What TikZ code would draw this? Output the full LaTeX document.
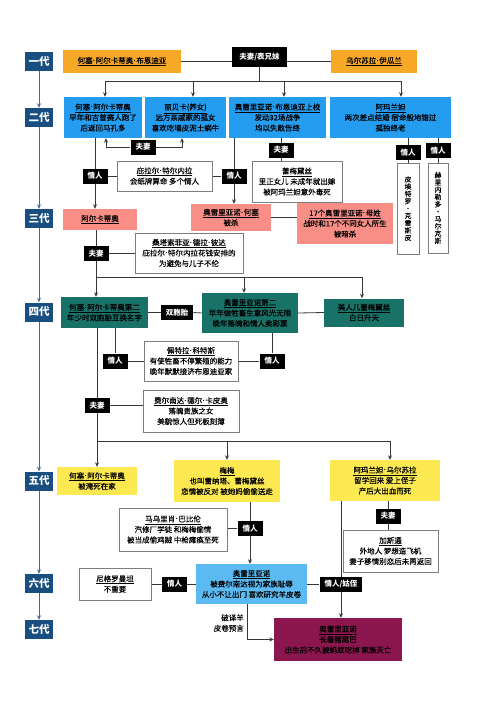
\documentclass[tikz,border=0pt]{standalone}
\usepackage{fontspec}
\setmainfont{Noto Sans CJK SC}
\newfontfamily\dotfont{Liberation Sans}
\usetikzlibrary{arrows.meta,backgrounds}

\definecolor{genblue}{RGB}{24,78,128}
\definecolor{genarrow}{RGB}{72,104,136}
\definecolor{linkgray}{RGB}{55,55,55}
\definecolor{cardgray}{RGB}{125,125,125}
\definecolor{cOrange}{RGB}{247,168,38}
\definecolor{cBlue}{RGB}{36,156,240}
\definecolor{cPink}{RGB}{248,142,134}
\definecolor{cTeal}{RGB}{24,114,104}
\definecolor{cYellow}{RGB}{252,233,82}
\definecolor{cSky}{RGB}{92,186,242}
\definecolor{cMaroon}{RGB}{140,22,78}

\newcommand{\boxfont}{\fontsize{7.5}{10.5}\selectfont\addfontfeature{FakeBold=0.25}}
\newcommand{\tagfont}{\bfseries\fontsize{7.5}{8}\selectfont}
\newcommand{\genfont}{\bfseries\fontsize{10.5}{11}\selectfont}
\newcommand{\vertfont}{\fontsize{6.8}{7.3}\selectfont\addfontfeature{FakeBold=0.25}}
\newcommand{\nm}[1]{\underline{#1}}
\newcommand{\dt}{{\dotfont\bfseries\kern0.3pt·\kern0.3pt}}

\begin{document}
\begin{tikzpicture}[x=1pt,y=-1pt,
    gen/.style={fill=genblue,text=white,font=\genfont,minimum width=28pt,minimum height=19pt,inner sep=0pt},
    tag/.style={fill=black,text=white,font=\tagfont,minimum height=15pt,inner xsep=5pt,inner ysep=0pt},
    box/.style={align=center,inner sep=0pt,font=\boxfont},
    card/.style={box,draw=cardgray,fill=white,line width=0.7pt},
    vert/.style={font=\vertfont},
    sz/.style 2 args={minimum width=#1pt,minimum height=#2pt},
    link/.style={draw=linkgray,line width=0.8pt},
    arr/.style={link,-{Stealth[length=4.5pt,width=4pt]}},
    genline/.style={draw=genarrow,line width=0.9pt,-{Stealth[length=4.5pt,width=4pt]}}]

    \useasboundingbox (0,0) rectangle (500,704);

    % generation labels
    \foreach \g/\y/\t in {1/61.5/一代,2/117.5/二代,3/218.5/三代,4/312/四代,5/481/五代,6/583.5/六代,7/629.5/七代}{
        \node[gen] (g\g) at (39,\y) {\t};
    }

    % first generation
    \node[box,fill=cOrange,sz={118}{23}] (jose1) at (122,61.5) {\nm{何塞\dt 阿尔卡蒂奥\dt 布恩迪亚}};
    \node[tag,minimum width=55pt,minimum height=20pt] (wed1) at (259.5,57) {夫妻/表兄妹};
    \node[box,fill=cOrange,sz={86}{23}] (ursula) at (374,61.5) {\nm{乌尔苏拉\dt 伊瓜兰}};
    \coordinate (bus1) at (259.5,81);

    % second generation
    \node[box,fill=cBlue,sz={78}{41}] (jose2) at (103,117.5) {\nm{何塞\dt 阿尔卡蒂奥}\\早年和吉普赛人跑了\\后返回马孔多};
    \node[box,fill=cBlue,sz={81}{41}] (rebeca) at (185.5,117.5) {\nm{丽贝卡(养女)}\\远方亲戚家的孤女\\喜欢吃墙皮泥土蜗牛};
    \node[box,fill=cBlue,sz={97}{41}] (aur2) at (277.5,117.5) {\nm{奥雷里亚诺\dt 布恩迪亚上校}\\发动32场战争\\均以失败告终};
    \node[box,fill=cBlue,sz={121}{41}] (amaranta) at (390.5,117.5) {\nm{阿玛兰妲}\\两次差点结婚 宿命般地错过\\孤独终老};
    \node[tag] (wed2) at (143,147) {夫妻};
    \node[card,sz={95}{30}] (pilar) at (164.5,176) {\nm{庇拉尔\dt 特尔内拉}\\会纸牌算命 多个情人};
    \node[tag] (lov2a) at (95,176) {情人};
    \node[tag] (lov2b) at (234,176) {情人};
    \node[tag] (wed2b) at (281,150) {夫妻};
    \node[card,sz={90}{41}] (remedios) at (297,181.5) {\nm{蕾梅黛丝}\\里正女儿 未成年就出嫁\\被阿玛兰妲意外毒死};
    \node[tag] (lov2c) at (408,152.5) {情人};
    \node[tag] (lov2d) at (438,150.5) {情人};
    \node[card,vert,sz={22}{91}] (pietro) at (408,208.5) {皮\\埃\\特\\罗\\·\\克\\雷\\斯\\皮};
    \node[card,vert,sz={20}{90}] (gerineldo) at (438,208) {赫\\里\\内\\勒\\多\\·\\马\\尔\\克\\斯};

    % third generation
    \node[box,fill=cPink,sz={74}{21}] (arcadio) at (100,219.5) {\nm{阿尔卡蒂奥}};
    \node[box,fill=cPink,sz={80}{27}] (aurjose) at (231,217.5) {\nm{奥雷里亚诺\dt 何塞}\\被杀};
    \node[box,fill=cPink,sz={96}{41}] (aur17) at (345,223.5) {\nm{17个奥雷里亚诺\dt 母姓}\\战时和17个不同女人所生\\被暗杀};
    \node[tag] (wed3) at (96,253.5) {夫妻};
    \node[card,sz={108}{40}] (santa) at (189,253) {\nm{桑塔索菲亚\dt 德拉\dt 彼达}\\庇拉尔\dt 特尔内拉花钱安排的\\为避免与儿子不伦};
    \coordinate (bus3) at (96,277);

    % fourth generation
    \node[box,fill=cTeal,sz={87}{31}] (jose4) at (104.5,312.5) {\nm{何塞\dt 阿尔卡蒂奥第二}\\年少时双胞胎互换名字};
    \node[tag] (twin) at (177,312.5) {双胞胎};
    \node[box,fill=cTeal,sz={96}{40}] (aur4) at (250,313) {\nm{奥雷里亚诺第二}\\早年做牲畜生意风光无限\\晚年落魄和情人卖彩票};
    \node[box,fill=cTeal,sz={80}{28}] (beauty) at (364,312.5) {\nm{美人儿蕾梅黛丝}\\白日升天};
    \node[tag] (lov4a) at (115,361) {情人};
    \node[tag] (lov4b) at (272,361) {情人};
    \node[card,sz={94}{40}] (petra) at (191,361) {\nm{佩特拉\dt 科特斯}\\有使牲畜不停繁殖的能力\\晚年默默接济布恩迪亚家};
    \node[tag] (wed4) at (97,405.5) {夫妻};
    \node[card,sz={96}{42}] (fernanda) at (191,411) {\nm{费尔南达\dt 德尔\dt 卡皮奥}\\落魄贵族之女\\美貌惊人但死板刻薄};
    \coordinate (bus4) at (97,441);

    % fifth generation
    \node[box,fill=cYellow,sz={80}{28}] (jose5) at (97,481) {\nm{何塞\dt 阿尔卡蒂奥}\\被淹死在家};
    \node[box,fill=cYellow,sz={106}{42}] (meme) at (227,481) {\nm{梅梅}\\也叫雷纳塔、蕾梅黛丝\\恋情被反对 被她妈偷偷送走};
    \node[box,fill=cYellow,sz={110}{41}] (amaru) at (385,480.5) {\nm{阿玛兰妲\dt 乌尔苏拉}\\留学回来 爱上侄子\\产后大出血而死};
    \node[tag] (lov5) at (250,528.5) {情人};
    \node[card,sz={108}{43}] (mauricio) at (173,529.5) {\nm{马乌里肖\dt 巴比伦}\\汽修厂学徒 和梅梅偷情\\被当成偷鸡贼 中枪瘫痪至死};
    \node[tag] (wed5) at (388,516) {夫妻};
    \node[card,sz={95}{42}] (gaston) at (390.5,551) {\nm{加斯通}\\外地人 梦想造飞机\\妻子移情别恋后未再返回};

    % sixth generation
    \node[box,fill=cSky,sz={111}{40}] (aur6) at (251.5,584) {\nm{奥雷里亚诺}\\被费尔南达视为家族耻辱\\从小不让出门 喜欢研究羊皮卷};
    \node[card,sz={72}{32}] (nigro) at (115,584) {\nm{尼格罗曼坦}\\不重要};
    \node[tag] (lov6) at (174.5,584) {情人};
    \node[tag] (aunt) at (341,584) {情人/姑侄};
    \node[box,align=right,anchor=east] (decode) at (244,623) {破译羊\\皮卷预言};

    % seventh generation
    \node[box,fill=cMaroon,sz={128}{43}] (aur7) at (338,639.5) {\nm{奥雷里亚诺}\\长着猪尾巴\\出生后不久被蚂蚁吃掉 家族灭亡};

    \begin{scope}[on background layer]
        \fill[white] (0,0) rectangle (500,704);
        \foreach \a/\b in {1/2,2/3,3/4,4/5,5/6,6/7}{
            \draw[genline] (g\a) -- (g\b);
        }

        % first to second
        \draw[link] (jose1.east) -- (jose1.east -| wed1.west);
        \draw[link] (ursula.west -| wed1.east) -- (ursula.west);
        \draw[link] (wed1) -- (bus1);
        \draw[link] ([xshift=2pt]jose2.north |- bus1) -- ([xshift=10.5pt]amaranta.north |- bus1);
        \foreach \t/\s in {jose2/2,rebeca/7.5,aur2/6.5,amaranta/10.5}{
            \draw[arr] ([xshift=\s pt]\t.north |- bus1) -- ([xshift=\s pt]\t.north);
        }

        % second generation partners
        \draw[arr] (wed2.west) -| ([xshift=3pt]jose2.south);
        \draw[arr] (wed2.east) -| ([xshift=-3.5pt]rebeca.south);
        \draw[arr] ([xshift=-8pt]jose2.south) -- ([xshift=-5pt]arcadio.north);
        \draw[link] (lov2a) -- (pilar) -- (lov2b);
        \draw[arr] ([xshift=-43.5pt]aur2.south) -- ([xshift=3pt]aurjose.north);
        \draw[link] (wed2b |- aur2.south) -- (wed2b |- remedios.north);
        \draw[link] (pietro.north |- amaranta.south) -- (pietro.north);
        \draw[link] (gerineldo.north |- amaranta.south) -- (gerineldo.north);

        % third generation
        \draw[link] (aurjose.east) -- (aurjose.east -| aur17.west);
        \draw[link] ([xshift=-4pt]arcadio.south) -- (bus3);
        \draw[link] (wed3.east) -- (wed3.east -| santa.west);
        \draw[link] (bus3) -- ([xshift=-2pt]beauty.north |- bus3);
        \draw[arr] (bus3) -- (bus3 |- jose4.north);
        \draw[arr] ([xshift=-6pt]aur4.north |- bus3) -- ([xshift=-6pt]aur4.north);
        \draw[arr] ([xshift=-2pt]beauty.north |- bus3) -- ([xshift=-2pt]beauty.north);

        % fourth generation
        \draw[link] (jose4.east) -- (twin.west);
        \draw[link] (twin.east) -- (aur4.west);
        \draw[link] (aur4.east) -- (beauty.west);
        \draw[link] (lov4a |- jose4.south) -- (lov4a);
        \draw[link] (lov4b |- aur4.south) -- (lov4b);
        \draw[link] (lov4a) -- (petra) -- (lov4b);
        \draw[link] (bus4 |- jose4.south) -- (bus4);
        \draw[link] (wed4.east) -- (wed4.east -| fernanda.west);
        \draw[link] (bus4) -- ([xshift=5pt]amaru.north |- bus4);
        \draw[arr] (bus4) -- (jose5.north);
        \draw[arr] (meme.north |- bus4) -- (meme.north);
        \draw[arr] ([xshift=5pt]amaru.north |- bus4) -- ([xshift=5pt]amaru.north);

        % fifth generation
        \draw[arr] ([xshift=23pt]meme.south) -- ([xshift=-1.5pt]aur6.north);
        \draw[link] (lov5.west) -- (lov5.west -| mauricio.east);
        \draw[link] (wed5 |- amaru.south) -- (wed5 |- gaston.north);
        \draw[arr] (aunt |- amaru.south) -- (aunt |- aur7.north);

        % sixth generation
        \draw[link] (nigro) -- (lov6) -- (aur6);
        \draw[link] (aur6.east) -- (aunt.west);
        \draw[arr] ([xshift=-4.5pt]aur6.south) |- (aur7.west);
    \end{scope}
\end{tikzpicture}
\end{document}
